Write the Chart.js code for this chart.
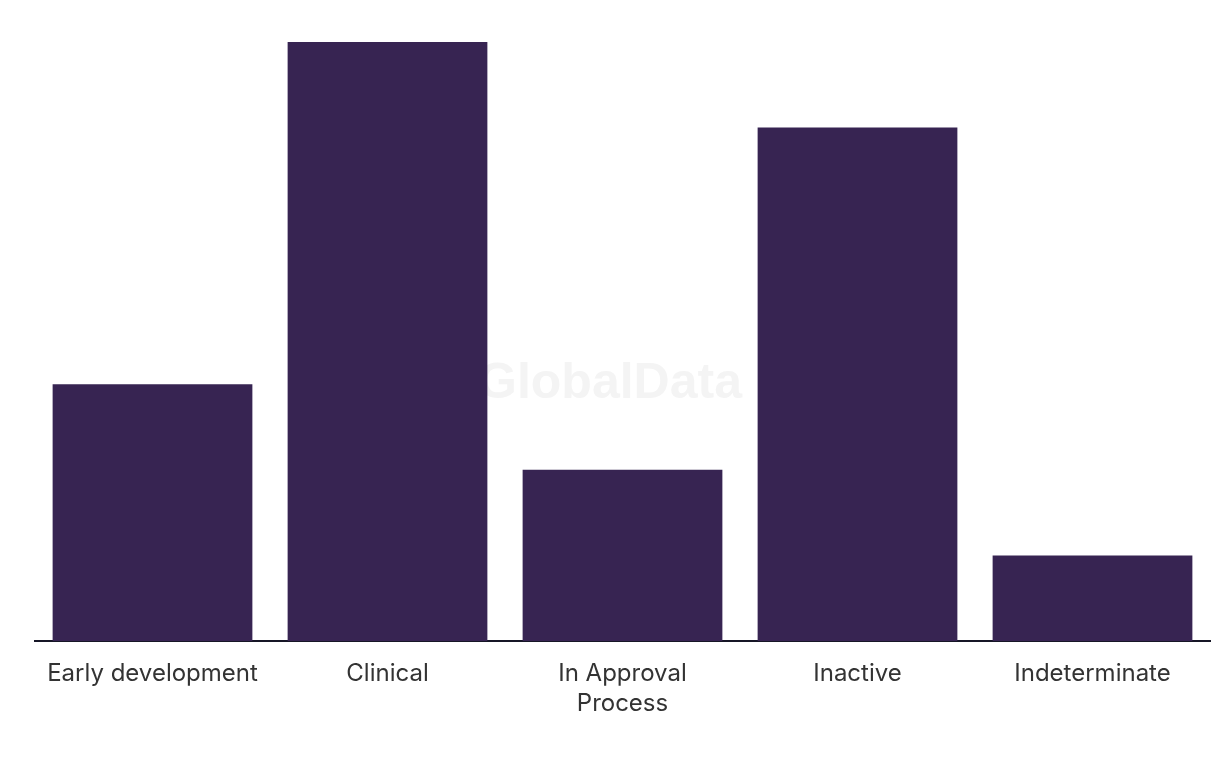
<!DOCTYPE html>
<html>
<head>
<meta charset="utf-8">
<script src="https://cdn.jsdelivr.net/npm/chart.js@4"></script>
<style>
  html, body { margin: 0; padding: 0; background: #fff; }
  #wrap { width: 1220px; height: 766px; position: relative; }
</style>
</head>
<body>
<div id="wrap"><canvas id="chart"></canvas></div>
<script>
const categories = ["Early development", "Clinical", ["In Approval", "Process"], "Inactive", "Indeterminate"];
const counts = [3, 7, 2, 6, 1];
const yMax = 7;

// faint watermark behind the bars
const watermark = {
  id: "watermark",
  beforeDatasetsDraw(chart) {
    const ctx = chart.ctx;
    ctx.save();
    ctx.font = "bold 50px 'Liberation Sans', Arial, sans-serif";
    ctx.fillStyle = "#f4f4f4";
    ctx.textAlign = "center";
    ctx.textBaseline = "middle";
    ctx.fillText("GlobalData", 610, 384);
    ctx.restore();
  }
};

new Chart(document.getElementById("chart"), {
  type: "bar",
  data: {
    labels: categories,
    datasets: [{
      data: counts,
      backgroundColor: "#372452",
      barPercentage: 0.85,
      categoryPercentage: 1
    }]
  },
  options: {
    responsive: true,
    maintainAspectRatio: false,
    animation: false,
    layout: { padding: { left: 35, right: 10, top: 42, bottom: 37 } },
    plugins: { legend: { display: false }, tooltip: { enabled: false } },
    scales: {
      x: {
        grid: { display: false },
        border: { display: true, color: "#161626", width: 2 },
        ticks: {
          color: "#333",
          padding: 10,
          maxRotation: 0,
          font: { family: "Inter, 'Noto Sans', sans-serif", size: 24, lineHeight: 1.25 }
        }
      },
      y: {
        display: false,
        min: 0,
        max: yMax
      }
    }
  },
  plugins: [watermark]
});
</script>
</body>
</html>
